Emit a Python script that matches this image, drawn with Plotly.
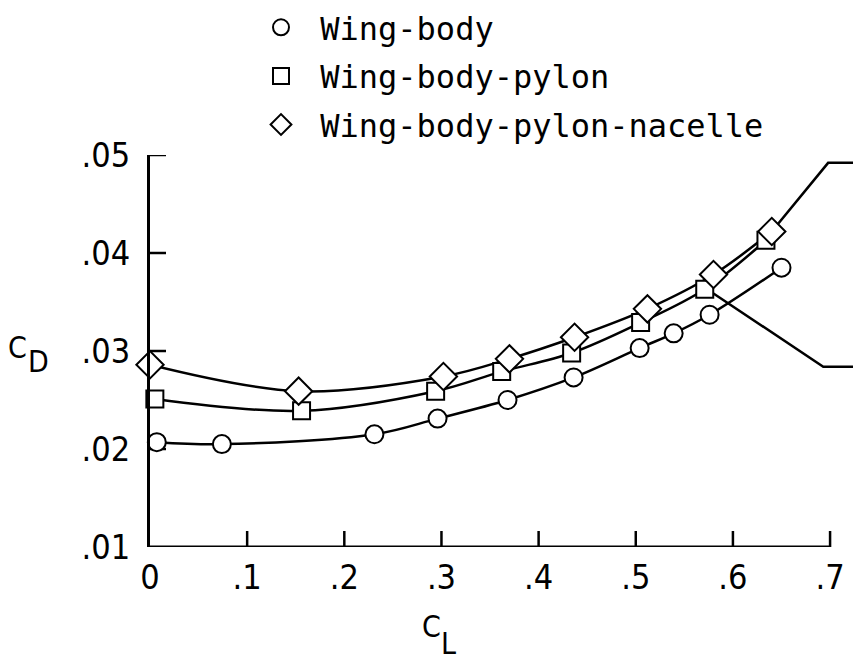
import plotly.graph_objects as go

# Data
series_names = ["Wing-body", "Wing-body-pylon", "Wing-body-pylon-nacelle"]
wb_cl = [0.007, 0.074, 0.231, 0.296, 0.368, 0.436, 0.504, 0.539, 0.576, 0.650]
wb_cd = [0.0207, 0.0205, 0.0215, 0.0231, 0.0250, 0.0273, 0.0303, 0.0318, 0.0337, 0.0385]
wbp_cl = [0.005, 0.156, 0.294, 0.362, 0.434, 0.505, 0.571, 0.634]
wbp_cd = [0.0251, 0.0239, 0.0259, 0.0279, 0.0298, 0.0329, 0.0363, 0.0413]
wbpn_cl = [0.000, 0.153, 0.302, 0.370, 0.437, 0.512, 0.580, 0.640]
wbpn_cd = [0.0286, 0.0259, 0.0274, 0.0292, 0.0314, 0.0343, 0.0378, 0.0422]

# callout (leader) lines toward an adjacent panel
upper_cl = [0.640, 0.698, 0.724]
upper_cd = [0.0422, 0.0492, 0.0492]
lower_cl = [0.575, 0.693, 0.724]
lower_cd = [0.0362, 0.0284, 0.0284]

x_ticks = [0, 0.1, 0.2, 0.3, 0.4, 0.5, 0.6, 0.7]
x_tick_labels = ["0", ".1", ".2", ".3", ".4", ".5", ".6", ".7"]
y_ticks = [0.01, 0.02, 0.03, 0.04, 0.05]
y_tick_labels = [".01", ".02", ".03", ".04", ".05"]

symbols = ["circle", "square", "diamond"]
msizes = [18, 17, 21]
data = [(wb_cl, wb_cd), (wbp_cl, wbp_cd), (wbpn_cl, wbpn_cd)]

X_RANGE = [0, 0.7236]
Y_RANGE = [0.01, 0.05]
PLOT_W, PLOT_H = 703, 392
TICK_PX = 16
dy_tick = TICK_PX * (Y_RANGE[1] - Y_RANGE[0]) / PLOT_H
dx_tick = TICK_PX * (X_RANGE[1] - X_RANGE[0]) / PLOT_W

fig = go.Figure()
for (x, y) in data:
    fig.add_trace(go.Scatter(x=x, y=y, mode="lines", line=dict(color="black", width=2.5, shape="spline", smoothing=1.0),
                             showlegend=False, hoverinfo="skip"))
for cx, cy in [(upper_cl, upper_cd), (lower_cl, lower_cd)]:
    fig.add_trace(go.Scatter(x=cx, y=cy, mode="lines", line=dict(color="black", width=2.5),
                             showlegend=False, hoverinfo="skip"))

# inward tick marks built from the tick arrays
tx, ty = [], []
for v in x_ticks[1:]:
    tx += [v, v, None]
    ty += [Y_RANGE[0], Y_RANGE[0] + dy_tick, None]
for v in y_ticks[1:]:
    tx += [0, dx_tick, None]
    ty += [v, v, None]
fig.add_trace(go.Scatter(x=tx, y=ty, mode="lines", line=dict(color="black", width=2.5),
                         showlegend=False, hoverinfo="skip"))

for i, (x, y) in enumerate(data):
    fig.add_trace(go.Scatter(x=x, y=y, mode="markers", name="\u00a0" + series_names[i], legendgroup=str(i),
                             marker=dict(symbol=symbols[i], size=msizes[i], color="white",
                                         line=dict(color="black", width=2)),
                             cliponaxis=False))

fig.add_shape(type="line", x0=0, x1=0.7, y0=0.01, y1=0.01, xref="x", yref="y",
              line=dict(color="black", width=3))

tickfont = dict(family="DejaVu Sans Condensed, DejaVu Sans", size=34, color="black")
fig.update_layout(
    width=853, height=665,
    margin=dict(l=150, r=0, t=155, b=118, autoexpand=False),
    paper_bgcolor="white", plot_bgcolor="white",
    showlegend=True,
    legend=dict(xref="container", yref="container", x=261/853, y=1 + 5/665,
                xanchor="left", yanchor="top", tracegroupgap=4,
                font=dict(family="DejaVu Sans Mono", size=32, color="black"),
                bgcolor="rgba(0,0,0,0)", itemsizing="trace"),
    xaxis=dict(range=X_RANGE, tickmode="array", tickvals=x_ticks, ticktext=x_tick_labels,
               ticks="", showline=False, showgrid=False, zeroline=False, tickfont=tickfont,
               ticklabelstandoff=7),
    yaxis=dict(range=Y_RANGE, tickmode="array", tickvals=y_ticks, ticktext=y_tick_labels,
               ticks="", showline=True, linewidth=3, linecolor="black", showgrid=False,
               zeroline=False, tickfont=tickfont, ticklabelstandoff=10),
)

afont = dict(family="DejaVu Sans Condensed, DejaVu Sans", size=30, color="black")
fig.add_annotation(text="C", xref="paper", yref="paper", x=(17 - 150) / 703, y=(547 - 347) / 392,
                   showarrow=False, font=afont, xanchor="center", yanchor="middle")
fig.add_annotation(text="D", xref="paper", yref="paper", x=(38 - 150) / 703, y=(547 - 361) / 392,
                   showarrow=False, font=afont, xanchor="center", yanchor="middle")
fig.add_annotation(text="C", xref="paper", yref="paper", x=(431 - 150) / 703, y=(547 - 626) / 392,
                   showarrow=False, font=afont, xanchor="center", yanchor="middle")
fig.add_annotation(text="L", xref="paper", yref="paper", x=(448 - 150) / 703, y=(547 - 643) / 392,
                   showarrow=False, font=afont, xanchor="center", yanchor="middle")

fig.write_html("out.html")
